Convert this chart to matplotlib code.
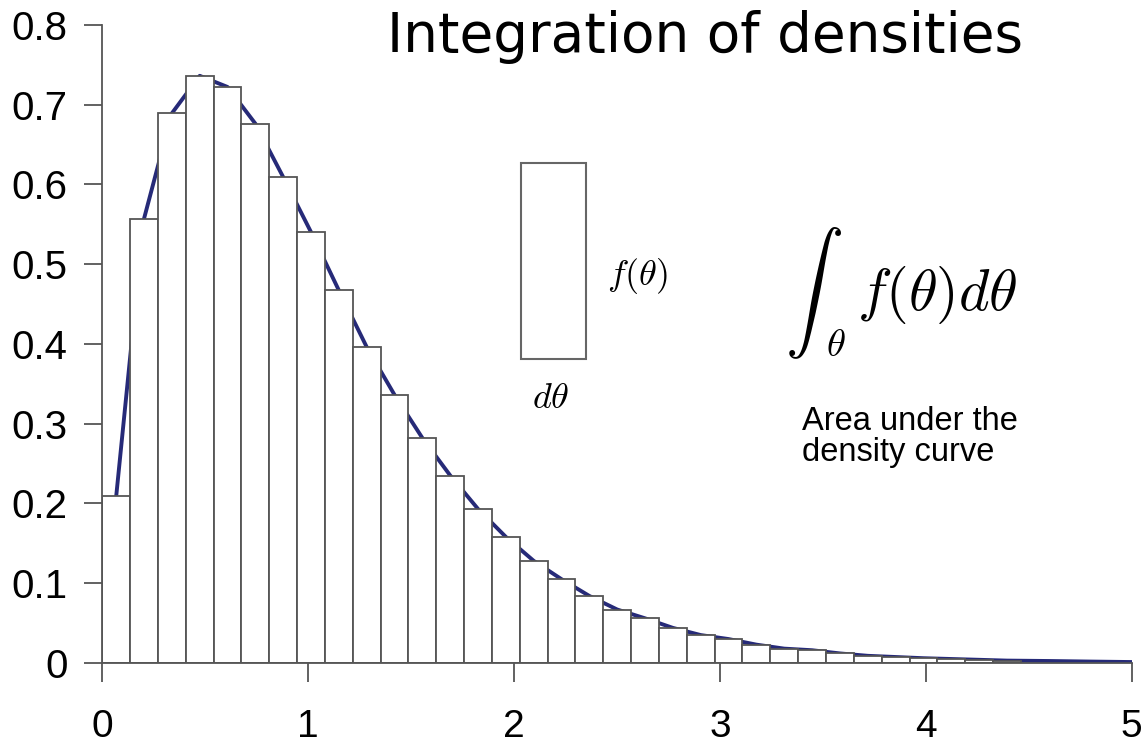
import numpy as np
import matplotlib.pyplot as plt
from matplotlib.patches import Rectangle

# bar heights (midpoint rule histogram)
bin_width = 0.1352
heights = [0.209, 0.557, 0.689, 0.736, 0.722, 0.676, 0.609, 0.540, 0.467, 0.396,
           0.336, 0.282, 0.235, 0.193, 0.158, 0.128, 0.105, 0.084, 0.067, 0.056,
           0.044, 0.035, 0.030, 0.023, 0.018, 0.016, 0.012, 0.009, 0.0075, 0.006,
           0.005, 0.004, 0.003]
# density curve goes through the bar tops, then a tail out to 5
tail_x = [4.6, 4.8, 5.0]
tail_y = [0.0025, 0.0018, 0.0012]

xticks = [0, 1, 2, 3, 4, 5]
yticks = [0, 0.1, 0.2, 0.3, 0.4, 0.5, 0.6, 0.7, 0.8]
ytick_labels = ['0', '0.1', '0.2', '0.3', '0.4', '0.5', '0.6', '0.7', '0.8']

plt.rcParams['mathtext.fontset'] = 'cm'

fig = plt.figure(figsize=(11.48, 7.5), dpi=100)
ax = fig.add_axes([0.0891, 0.116, 0.8967, 0.851])

lefts = np.arange(len(heights)) * bin_width
centers = lefts + bin_width / 2
curve_x = list(centers) + tail_x
curve_y = list(heights) + tail_y

ax.plot(curve_x, curve_y, color='#262a78', lw=2.8, zorder=1, solid_capstyle='round')
ax.bar(lefts, heights, width=bin_width, align='edge', facecolor='white',
       edgecolor='#555555', linewidth=1.3, zorder=2)

ax.set_xlim(0, 5)
ax.set_ylim(0, 0.8)
ax.set_xticks(xticks)
ax.set_xticklabels([str(t) for t in xticks])
ax.set_yticks(yticks)
ax.set_yticklabels(ytick_labels)
for s in ['top', 'right']:
    ax.spines[s].set_visible(False)
for s in ['left', 'bottom']:
    ax.spines[s].set_color('#555555')
    ax.spines[s].set_linewidth(1.3)
    ax.spines[s].set_zorder(3)
ax.tick_params(axis='x', direction='out', length=14, width=1.3, color='#555555',
               labelsize=28, pad=19)
ax.tick_params(axis='y', direction='out', length=13, width=1.3, color='#555555',
               labelsize=29, pad=12)
for lab in ax.get_xticklabels() + ax.get_yticklabels():
    lab.set_fontfamily('Liberation Sans')

# little d-theta rectangle
ax.add_patch(Rectangle((2.034, 0.381), 0.316, 0.246, facecolor='white',
                       edgecolor='#666666', lw=1.5, zorder=3))
fig.text(0.555, 0.632, r'$f(\theta)$', fontsize=26, ha='center', va='center')
fig.text(0.480, 0.469, r'$d\theta$', fontsize=26, ha='center', va='center')

# integral
fig.text(0.709, 0.609, r'$\int$', fontsize=42, ha='center', va='center')
fig.text(0.728, 0.540, r'$\theta$', fontsize=28, ha='center', va='center')
fig.text(0.816, 0.607, r'$f(\theta)d\theta$', fontsize=42, ha='center', va='center')

fig.text(0.699, 0.418, 'Area under the\ndensity curve', fontsize=23.5,
         family='Liberation Sans', ha='left', va='center', linespacing=1.0)

fig.text(0.614, 0.931, 'Integration of densities', fontsize=39.5,
         family='DejaVu Sans', ha='center', va='baseline')

fig.savefig('out.png', dpi=100)
